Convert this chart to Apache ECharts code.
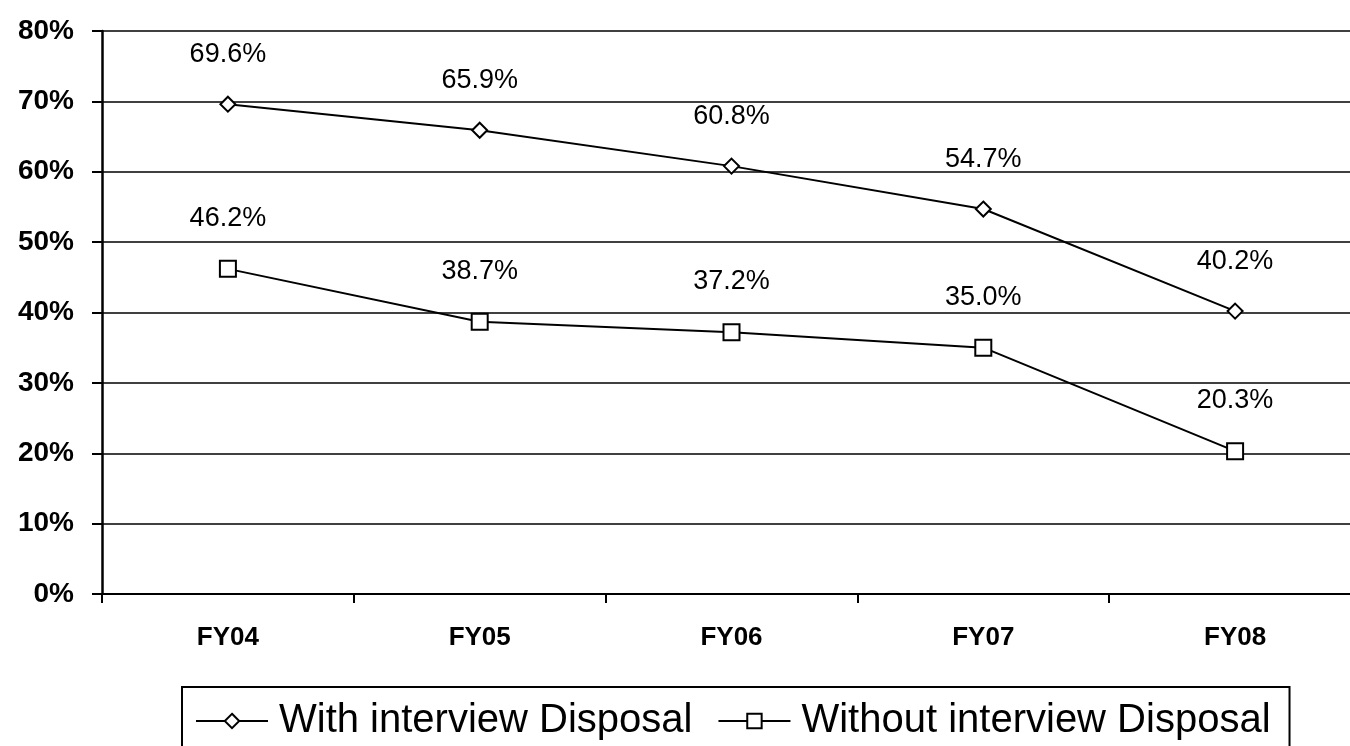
<!DOCTYPE html>
<html>
<head>
<meta charset="utf-8">
<script src="https://cdn.jsdelivr.net/npm/echarts@6/dist/echarts.min.js"></script>
<style>
html, body { margin: 0; padding: 0; background: #fff; overflow: hidden; }
#main { width: 1361px; height: 746px; }
</style>
</head>
<body>
<div id="main"></div>
<script>
var categories = ['FY04', 'FY05', 'FY06', 'FY07', 'FY08'];
var withInterview = [69.6, 65.9, 60.8, 54.7, 40.2];
var withoutInterview = [46.2, 38.7, 37.2, 35.0, 20.3];
var seriesNames = ['With interview Disposal', 'Without interview Disposal'];

// plot runs a bit past the right edge of the window, like the original
var chart = echarts.init(document.getElementById('main'));

var labelStyle = {
    show: true,
    position: 'top',
    distance: 28,
    fontFamily: 'Liberation Sans, Arial',
    fontSize: 27,
    color: '#000',
    formatter: function (p) { return p.value.toFixed(1) + '%'; }
};

var option = {
    backgroundColor: '#fff',
    animation: false,
    grid: {
        left: 102,
        top: 31,
        right: 0,
        bottom: 152
    },
    xAxis: {
        type: 'category',
        data: categories,
        boundaryGap: true,
        axisLine: { lineStyle: { color: '#000', width: 2 } },
        axisTick: { show: true, length: 9, lineStyle: { color: '#000', width: 2 } },
        axisLabel: {
            margin: 31,
            fontFamily: 'Liberation Sans, Arial',
            fontSize: 26,
            fontWeight: 'bold',
            color: '#000'
        }
    },
    yAxis: {
        type: 'value',
        min: 0,
        max: 80,
        interval: 10,
        axisLine: { show: true, lineStyle: { color: '#000', width: 2.5 } },
        axisTick: { show: true, length: 10, lineStyle: { color: '#000', width: 2 } },
        splitLine: { lineStyle: { color: '#000', width: 1.5 } },
        axisLabel: {
            margin: 28,
            fontFamily: 'Liberation Sans, Arial',
            fontSize: 28,
            fontWeight: 'bold',
            color: '#000',
            formatter: '{value}%'
        }
    },
    legend: {
        data: seriesNames,
        left: 182,
        top: 687,
        orient: 'horizontal',
        borderColor: '#000',
        borderWidth: 2,
        borderRadius: 0,
        padding: [11, 19, 20, 13],
        itemGap: 25,
        itemWidth: 72,
        itemHeight: 18,
        textStyle: {
            fontFamily: 'Liberation Sans, Arial',
            fontSize: 40,
            lineHeight: 46,
            padding: [0, 0, 0, 6],
            color: '#000'
        }
    },
    series: [
        {
            name: seriesNames[0],
            type: 'line',
            data: withInterview,
            symbol: 'diamond',
            symbolSize: 15,
            itemStyle: { color: '#fff', borderColor: '#000', borderWidth: 2 },
            lineStyle: { color: '#000', width: 2 },
            label: labelStyle
        },
        {
            name: seriesNames[1],
            type: 'line',
            data: withoutInterview,
            symbol: 'rect',
            symbolSize: 16,
            itemStyle: { color: '#fff', borderColor: '#000', borderWidth: 2 },
            lineStyle: { color: '#000', width: 2 },
            label: labelStyle
        }
    ]
};

chart.setOption(option);
</script>
</body>
</html>
